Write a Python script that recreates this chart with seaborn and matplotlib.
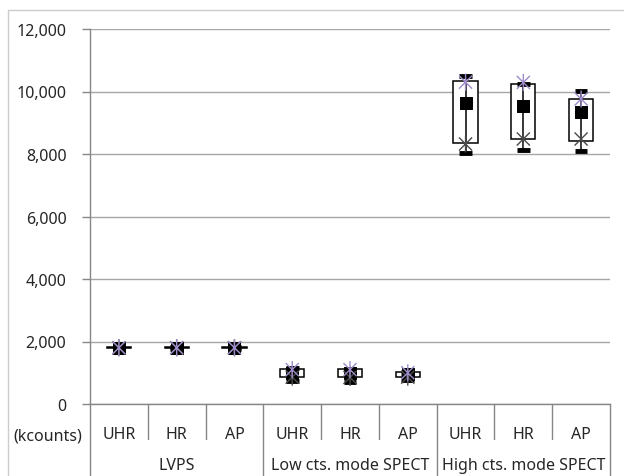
import matplotlib
matplotlib.use("Agg")
import matplotlib.pyplot as plt
import matplotlib.patches as mpatches
from matplotlib.path import Path
import matplotlib.transforms as mtransforms
import numpy as np
import pandas as pd
import seaborn as sns

# data (kcounts)
groups = ["LVPS", "Low cts. mode SPECT", "High cts. mode SPECT"]
collimators = ["UHR", "HR", "AP"]
high = [1830, 1830, 1830, 1150, 1100, 1000, 10500, 10250, 10030]
low = [1770, 1770, 1770, 750, 700, 780, 8020, 8140, 8100]
box_top = [1810, 1810, 1810, 1130, 1130, 1030, 10340, 10250, 9760]
box_bottom = [1790, 1790, 1790, 860, 860, 860, 8340, 8480, 8420]
mean = [1800, 1800, 1800, 1000, 1000, 950, 9620, 9530, 9330]
star_top = [1800, 1800, 1800, 1100, 1100, 1000, 10300, 10290, 9760]
star_bottom = [1800, 1800, 1800, 860, 850, 860, 8320, 8480, 8480]

sns.set_style("white")
plt.rcParams["font.family"] = ["Noto Sans", "DejaVu Sans"]
txt = "#262626"
grey = "#a6a6a6"
axis_grey = "#868686"
fs = 11.5

fig = plt.figure(figsize=(6.24, 4.77), dpi=100)
W, H = 624, 477
ax = fig.add_axes([90 / W, (H - 405) / H, (610 - 90) / W, (405 - 30) / H])

labels = [c for g in groups for c in collimators]
x = np.arange(len(labels))
df = pd.DataFrame({"x": x, "mean": mean, "star_top": star_top,
                   "star_bottom": star_bottom})

# whiskers, boxes and caps
half = 0.21
cap = 0.11
for i in x:
    ax.add_patch(mpatches.Rectangle((i - half, box_bottom[i]), 2 * half,
                                    box_top[i] - box_bottom[i],
                                    facecolor="white", edgecolor="black",
                                    lw=1.1, zorder=2))
ax.vlines(x, low, high, color="black", lw=1.1, zorder=3)
ax.hlines(high, x - cap, x + cap, color="black", lw=3.5, zorder=3)
ax.hlines(low, x - cap, x + cap, color="black", lw=3.5, zorder=3)

# Excel-like star marker: X plus vertical line
star = Path([(-1, -1), (1, 1), (-1, 1), (1, -1), (0, -1.3), (0, 1.3)],
            [Path.MOVETO, Path.LINETO, Path.MOVETO, Path.LINETO,
             Path.MOVETO, Path.LINETO])

sns.scatterplot(data=df, x="x", y="mean", marker="s", s=80, color="black",
                edgecolor="black", ax=ax, zorder=4, legend=False)
sns.scatterplot(data=df, x="x", y="star_bottom", marker=star, s=150,
                facecolor="none", edgecolor="#4a4a4a", linewidth=1.0,
                ax=ax, zorder=5, legend=False)
sns.scatterplot(data=df, x="x", y="star_top", marker=star, s=150,
                facecolor="none", edgecolor="#9d8cc9", linewidth=1.0,
                ax=ax, zorder=5, legend=False)

ax.set_xlim(-0.5, len(labels) - 0.5)
ax.set_ylim(0, 12000)
ax.set_yticks(np.arange(0, 12001, 2000))
ax.set_yticklabels([f"{v:,}" for v in range(0, 12001, 2000)],
                   fontsize=fs, color=txt)
ax.yaxis.grid(True, color=grey, lw=1)
ax.set_axisbelow(True)
ax.tick_params(axis="y", left=True, length=6, width=1, color=axis_grey, pad=11)
ax.set_xticks([])
ax.set_xlabel("")
ax.set_ylabel("")
for s in ["top", "right"]:
    ax.spines[s].set_visible(False)
for s in ["left", "bottom"]:
    ax.spines[s].set_color(axis_grey)
    ax.spines[s].set_linewidth(1)

# multi-level category axis
trans = mtransforms.blended_transform_factory(ax.transData, ax.transAxes)
lvl1 = -(435 - 405) / 375
lvl2 = -(466 - 405) / 375
inner_end = -(440 - 405) / 375
bottom_end = -(H - 405) / 375
for i, lab in enumerate(labels):
    ax.text(i, lvl1, lab, transform=trans, ha="center", va="center",
            fontsize=fs, color=txt)
for i in range(len(labels) + 1):
    xs = i - 0.5
    y_end = bottom_end if i % 3 == 0 else inner_end
    ax.plot([xs, xs], [0, y_end], transform=trans, color=axis_grey, lw=1,
            clip_on=False)
for g, name in enumerate(groups):
    ax.text(3 * g + 1, lvl2, name, transform=trans, ha="center", va="center",
            fontsize=fs, color=txt)
fig.text(48 / W, (H - 437) / H, "(kcounts)", ha="center", va="center",
         fontsize=fs, color=txt)

# outer chart frame (top/left visible)
fig.add_artist(plt.Line2D([8 / W, 1], [1 - 11 / H, 1 - 11 / H],
                          transform=fig.transFigure, color="#cccccc", lw=1))
fig.add_artist(plt.Line2D([8 / W, 8 / W], [0, 1 - 11 / H],
                          transform=fig.transFigure, color="#cccccc", lw=1))

fig.savefig("out.png", dpi=100)
